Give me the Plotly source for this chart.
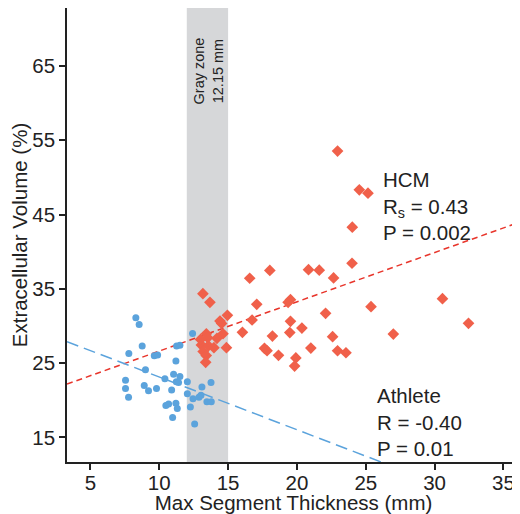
import plotly.graph_objects as go

# Athlete (blue circles)
athlete_x = [8.30, 8.54, 8.76, 7.79, 12.42, 11.26, 11.50, 9.64, 9.88, 11.21,
             9.00, 7.55, 7.55, 7.77, 8.91, 9.22, 9.80, 10.41, 11.04, 11.50,
             11.24, 11.40, 10.90, 12.04, 12.04, 10.48, 10.68, 11.21, 11.31, 10.97,
             12.26, 12.57, 12.45, 12.88, 13.03, 13.10, 13.76, 13.46, 13.78]
athlete_y = [31.1, 30.2, 27.3, 26.3, 29.0, 27.3, 27.4, 26.0, 26.1, 25.3,
             24.1, 22.7, 21.6, 20.4, 22.0, 21.3, 21.6, 22.9, 23.5, 23.2,
             22.5, 22.4, 21.4, 22.5, 20.9, 19.3, 19.5, 19.6, 18.9, 17.7,
             19.1, 16.8, 20.2, 20.4, 20.7, 21.8, 22.4, 19.8, 19.8]

# HCM (red diamonds)
hcm_x = [13.17, 13.68, 14.95, 14.41, 14.53, 16.04, 14.63, 13.42, 13.52, 14.19,
         13.06, 13.57, 13.97, 14.88, 13.19, 13.41, 13.37, 13.00,
         16.57, 18.03, 17.08, 19.53, 19.36, 16.74, 19.53, 18.22, 19.48, 17.64,
         17.83, 18.66, 19.92, 19.83, 22.95, 24.53, 25.16, 24.02, 24.00, 20.84,
         21.62, 22.66, 25.38, 30.57, 32.46, 22.08, 20.36, 22.59, 27.00, 21.01,
         22.95, 23.56]
hcm_y = [34.35, 33.19, 31.44, 30.67, 30.34, 29.15, 28.96, 28.96, 28.42, 28.34,
         27.44, 27.34, 27.08, 27.08, 26.56, 26.02, 25.11, 28.2,
         36.43, 37.48, 32.92, 33.54, 33.19, 30.81, 30.63, 28.65, 29.12, 27.00,
         26.67, 26.06, 25.71, 24.61, 53.54, 48.33, 47.88, 43.30, 38.45, 37.59,
         37.51, 36.47, 32.60, 33.68, 30.36, 31.71, 29.73, 28.56, 28.92, 27.03,
         26.67, 26.40]

# Regression lines (intercept, slope)
hcm_fit = (20.0, 0.663)
athlete_fit = (30.24, -0.71)

x_range = [3.3, 36.2]
y_range = [11.7, 72.8]
gray_zone = [12.0, 15.0]
x_ticks = [5, 10, 15, 20, 25, 30, 35]
y_ticks = [15, 25, 35, 45, 55, 65]

BLUE = "#5BA3DC"
RED = "#F0604A"
RED_LINE = "#E8352B"
INK = "#222222"
FONT = "Liberation Sans, Arial, Helvetica, sans-serif"
FS = 20.5

fig = go.Figure()

fig.add_shape(type="rect", xref="x", yref="paper", x0=gray_zone[0], x1=gray_zone[1],
              y0=0, y1=1, fillcolor="#D6D7D9", line_width=0, layer="below")

fx = [x_range[0], x_range[1]]
fig.add_trace(go.Scatter(x=fx, y=[hcm_fit[0] + hcm_fit[1] * v for v in fx], mode="lines",
                         line=dict(color=RED_LINE, width=1.5, dash="6px,4px"),
                         showlegend=False, hoverinfo="skip"))
fig.add_trace(go.Scatter(x=fx, y=[athlete_fit[0] + athlete_fit[1] * v for v in fx], mode="lines",
                         line=dict(color=BLUE, width=1.5, dash="12px,6px"),
                         showlegend=False, hoverinfo="skip"))

fig.add_trace(go.Scatter(x=athlete_x, y=athlete_y, mode="markers", name="Athlete",
                         marker=dict(symbol="circle", size=7, color=BLUE),
                         showlegend=False))
fig.add_trace(go.Scatter(x=hcm_x, y=hcm_y, mode="markers", name="HCM",
                         marker=dict(symbol="diamond", size=9, color=RED),
                         showlegend=False))

ann_font = dict(family=FONT, size=FS, color=INK)
fig.add_annotation(x=26.1, y=51.5, xref="x", yref="y", text="HCM<br>R<sub>s</sub> = 0.43<br>P = 0.002",
                   showarrow=False, xanchor="left", yanchor="top", align="left", font=ann_font)
fig.add_annotation(x=25.7, y=22.45, xref="x", yref="y", text="Athlete<br>R = -0.40<br>P = 0.01",
                   showarrow=False, xanchor="left", yanchor="top", align="left", font=ann_font)
fig.add_annotation(x=13.6, y=0.862, xref="x", yref="paper", text="Gray zone<br>12.15 mm",
                   showarrow=False, textangle=-90, xanchor="center", yanchor="middle",
                   font=dict(family=FONT, size=14.5, color=INK))

axis_common = dict(showgrid=False, zeroline=False, showline=True, linecolor=INK, linewidth=1.5,
                   ticks="outside", ticklen=6, tickwidth=1.5, tickcolor=INK, automargin=False,
                   tickfont=dict(family=FONT, size=FS, color=INK))
fig.update_xaxes(range=x_range, tickvals=x_ticks, mirror=True, ticklabelstandoff=-4,
                 title=dict(text="Max Segment Thickness (mm)", font=dict(family=FONT, size=FS, color=INK),
                            standoff=4), **axis_common)
fig.update_yaxes(range=y_range, tickvals=y_ticks,
                 title=dict(text="Extracellular Volume (%)", font=dict(family=FONT, size=FS, color=INK),
                            standoff=4), **axis_common)

# page body adds an 8px offset, so the figure is drawn 8px smaller on each axis
fig.update_layout(width=512, height=506, margin=dict(l=59, r=0, t=0, b=52),
                  plot_bgcolor="white", paper_bgcolor="white", font=dict(family=FONT))

fig.write_html("out.html")
